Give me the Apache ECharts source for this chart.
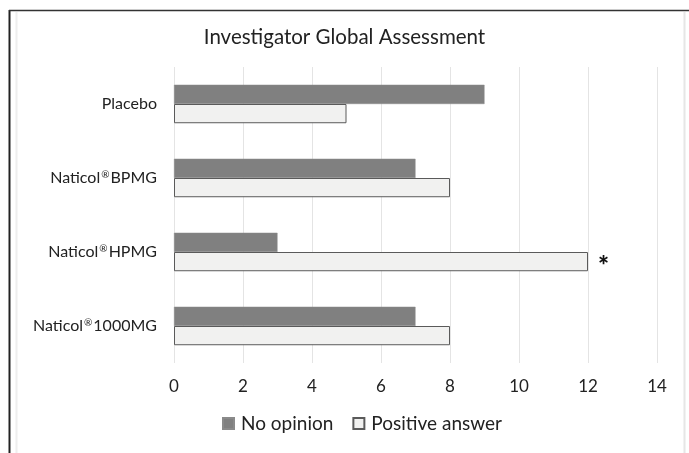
<!DOCTYPE html>
<html><head><meta charset="utf-8">
<script src="https://cdn.jsdelivr.net/npm/echarts@6/dist/echarts.min.js"></script>
<style>html,body{margin:0;padding:0;background:#fff}#c{width:689px;height:453px}</style>
</head><body><div id="c"></div>
<script>
const categories = ['Placebo', 'Naticol®BPMG', 'Naticol®HPMG', 'Naticol®1000MG'];
const noOpinion = [9, 7, 3, 7];
const positiveAnswer = [5, 8, 12, 8];
const xTicks = [0, 2, 4, 6, 8, 10, 12, 14];
const significant = [false, false, true, false];

const font = 'Lato, "Open Sans", sans-serif';
const chart = echarts.init(document.getElementById('c'), null, {renderer: 'canvas'});
chart.setOption({
  animation: false,
  backgroundColor: '#fff',
  title: {text: 'Investigator Global Assessment', left: 'center', top: 22,
    textStyle: {fontFamily: font, fontSize: 20.5, fontWeight: 'normal', color: '#222'}},
  legend: {bottom: 15, left: 217, itemWidth: 11, itemHeight: 11, itemGap: 19,
    textStyle: {fontFamily: font, fontSize: 19, color: '#222', padding: [0, 0, 0, 2]},
    data: [{name: 'No opinion', icon: 'rect'}, {name: 'Positive answer', icon: 'rect'}]},
  grid: {left: 174, right: 32, top: 67, bottom: 90},
  xAxis: {type: 'value', min: xTicks[0], max: xTicks[xTicks.length - 1], interval: 2,
    axisLine: {show: false}, axisTick: {show: false},
    splitLine: {show: true, lineStyle: {color: '#e4e4e4', width: 1}},
    axisLabel: {fontFamily: font, fontSize: 17, color: '#222', margin: 15}},
  yAxis: {type: 'category', data: categories, inverse: true,
    axisLine: {show: false}, axisTick: {show: false},
    axisLabel: {fontFamily: font, fontSize: 16, color: '#222', margin: 17,
      formatter: v => v.split('®').join('{r|®}'),
      rich: {r: {fontFamily: font, fontSize: 10, color: '#222', verticalAlign: 'top', padding: [0, 1, 6, 1]}}}},
  series: [
    {name: 'No opinion', type: 'bar', data: noOpinion, barGap: '0%', barCategoryGap: '48%',
     itemStyle: {color: '#808080', borderColor: '#8a8a8a', borderWidth: 0.5}},
    {name: 'Positive answer', type: 'bar',
     data: positiveAnswer.map((v, i) => significant[i]
       ? {value: v, label: {show: true, position: 'right', formatter: '*', distance: 10,
           fontSize: 26, fontWeight: 900, color: '#111', fontFamily: font, offset: [0, 5]}}
       : v),
     itemStyle: {color: '#f1f1f0', borderColor: '#5a5a5a', borderWidth: 1}}
  ],
  graphic: [
    {type: 'line', shape: {x1: 9.5, y1: 10, x2: 9.5, y2: 453}, style: {stroke: '#222', lineWidth: 2}},
    {type: 'line', shape: {x1: 9, y1: 10.5, x2: 689, y2: 10.5}, style: {stroke: '#333', lineWidth: 1.5}},
    {type: 'line', shape: {x1: 16.5, y1: 12, x2: 16.5, y2: 453}, style: {stroke: '#eeeeee', lineWidth: 2}},
    {type: 'line', shape: {x1: 684.5, y1: 12, x2: 684.5, y2: 453}, style: {stroke: '#e6e6e6', lineWidth: 2}}
  ]
});
</script></body></html>
